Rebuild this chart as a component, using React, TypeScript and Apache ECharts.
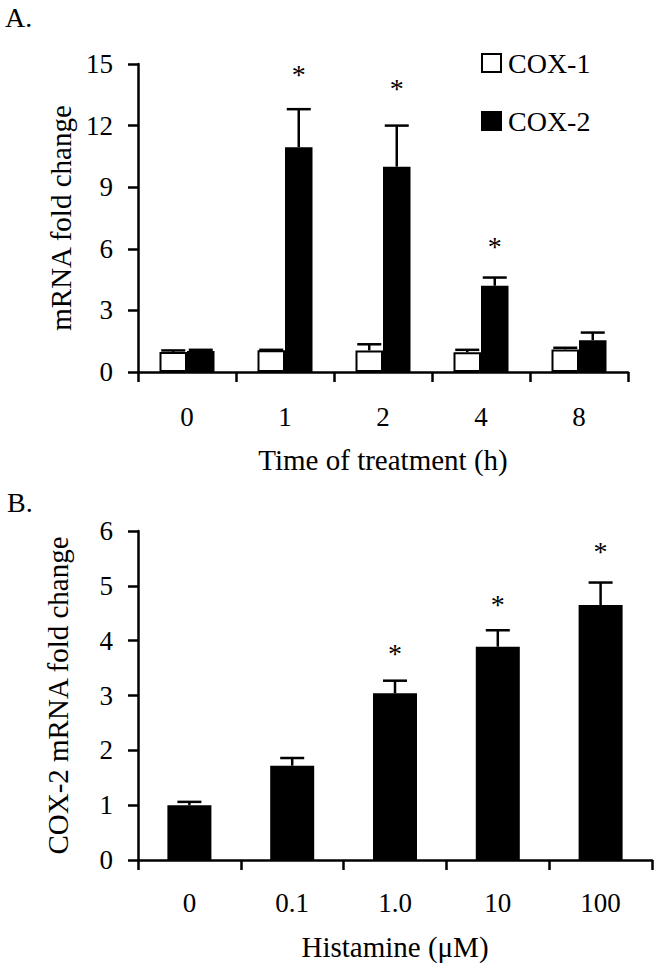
import React, { useEffect, useRef } from "react";
import * as echarts from "echarts";

// Panel A data
const timeCats = ["0", "1", "2", "4", "8"];
const cox1Mean = [0.98, 1.06, 1.05, 0.96, 1.1];
const cox1Upper = [1.05, 1.08, 1.35, 1.08, 1.18];
const cox2Mean = [1.02, 10.95, 10.0, 4.2, 1.55];
const cox2Upper = [1.08, 12.8, 12.0, 4.6, 1.92];
const cox2StarY: (number | null)[] = [null, 14.7, 14.0, 6.3, null];

// Panel B data
const doseCats = ["0", "0.1", "1.0", "10", "100"];
const histMean = [1.0, 1.72, 3.04, 3.89, 4.65];
const histUpper = [1.06, 1.86, 3.27, 4.19, 5.06];
const histStarY: (number | null)[] = [null, null, 3.83, 4.74, 5.69];

const FONT = '"Liberation Serif", "Times New Roman", serif';
const BW_A = 27.5;
const BW_B = 44;

function errRender(offset: number, capW: number) {
  return (params: any, api: any) => {
    const x = api.value(0);
    const p0 = api.coord([x, api.value(1)]);
    const p1 = api.coord([x, api.value(2)]);
    const cx = p0[0] + offset;
    const st = { stroke: "#000", lineWidth: 2.5 };
    return {
      type: "group",
      children: [
        { type: "line", shape: { x1: cx, y1: p0[1], x2: cx, y2: p1[1] }, style: st },
        { type: "line", shape: { x1: cx - capW / 2, y1: p1[1], x2: cx + capW / 2, y2: p1[1] }, style: st },
      ],
    };
  };
}

function starRender(offset: number) {
  return (params: any, api: any) => {
    const p = api.coord([api.value(0), api.value(1)]);
    return {
      type: "text",
      x: p[0] + offset,
      y: p[1] + 4,
      style: {
        text: "*",
        fill: "#000",
        font: `28px ${FONT}`,
        align: "center",
        verticalAlign: "middle",
      },
    };
  };
}

export default function App() {
  const ref = useRef<HTMLDivElement>(null);
  useEffect(() => {
    document.body.style.margin = "0";
    const chart = echarts.init(ref.current!, null, { renderer: "svg" });
    const axisLine = { show: true, lineStyle: { color: "#000", width: 2.5 } };
    const axisTick = { show: true, inside: false, length: 10, lineStyle: { color: "#000", width: 2.5 } };
    const tickFont = { color: "#000", fontFamily: FONT, fontSize: 27 };
    const nameFont = { color: "#000", fontFamily: FONT, fontSize: 29 };

    const errA1 = cox1Mean.map((m, i) => [i, m, cox1Upper[i]]);
    const errA2 = cox2Mean.map((m, i) => [i, m, cox2Upper[i]]);
    const starsA = cox2StarY.map((v, i) => (v == null ? null : [i, v])).filter(Boolean);
    const errB = histMean.map((m, i) => [i, m, histUpper[i]]);
    const starsB = histStarY.map((v, i) => (v == null ? null : [i, v])).filter(Boolean);

    chart.setOption({
      animation: false,
      backgroundColor: "#fff",
      title: [
        { text: "A.", left: 5, top: 3, textStyle: { ...nameFont, fontSize: 28, fontWeight: "normal" }, padding: 0 },
        { text: "B.", left: 7, top: 488, textStyle: { ...nameFont, fontSize: 28, fontWeight: "normal" }, padding: 0 },
      ],
      legend: {
        data: ["COX-1", "COX-2"],
        orient: "vertical",
        left: 476,
        top: 44,
        icon: "rect",
        itemWidth: 19,
        itemHeight: 18,
        itemGap: 30,
        itemStyle: { borderColor: "#000", borderWidth: 2 },
        textStyle: { ...nameFont, fontSize: 28, padding: [0, 0, 0, 2] },
      },
      grid: [
        { left: 138, right: 29, top: 64, height: 308 },
        { left: 138, right: 5, top: 531, height: 329 },
      ],
      xAxis: [
        {
          type: "category",
          gridIndex: 0,
          data: timeCats,
          axisLine,
          axisTick,
          axisLabel: { ...tickFont, margin: 31 },
          name: "Time of treatment (h)",
          nameLocation: "middle",
          nameGap: 73.5,
          nameTextStyle: nameFont,
        },
        {
          type: "category",
          gridIndex: 1,
          data: doseCats,
          axisLine,
          axisTick,
          axisLabel: { ...tickFont, margin: 29 },
          name: "Histamine (μM)",
          nameLocation: "middle",
          nameGap: 72.5,
          nameTextStyle: nameFont,
        },
      ],
      yAxis: [
        {
          type: "value",
          gridIndex: 0,
          min: 0,
          max: 15,
          interval: 3,
          axisLine,
          axisTick,
          splitLine: { show: false },
          axisLabel: { ...tickFont, margin: 25 },
          name: "mRNA fold change",
          nameLocation: "middle",
          nameGap: 62.5,
          nameTextStyle: nameFont,
        },
        {
          type: "value",
          gridIndex: 1,
          min: 0,
          max: 6,
          interval: 1,
          axisLine,
          axisTick,
          splitLine: { show: false },
          axisLabel: { ...tickFont, margin: 25 },
          name: "COX-2 mRNA fold change",
          nameLocation: "middle",
          nameGap: 65.5,
          nameTextStyle: nameFont,
        },
      ],
      series: [
        {
          name: "COX-1",
          type: "bar",
          xAxisIndex: 0,
          yAxisIndex: 0,
          data: cox1Mean,
          barWidth: BW_A,
          barGap: "0%",
          itemStyle: { color: "#fff", borderColor: "#000", borderWidth: 2 },
        },
        {
          name: "COX-2",
          type: "bar",
          xAxisIndex: 0,
          yAxisIndex: 0,
          data: cox2Mean,
          barWidth: BW_A,
          barGap: "0%",
          itemStyle: { color: "#000", borderColor: "#000", borderWidth: 2 },
        },
        {
          name: "COX-1 err",
          type: "custom",
          xAxisIndex: 0,
          yAxisIndex: 0,
          data: errA1,
          encode: { x: 0, y: [1, 2] },
          renderItem: errRender(-BW_A / 2, 24),
          z: 3,
        },
        {
          name: "COX-2 err",
          type: "custom",
          xAxisIndex: 0,
          yAxisIndex: 0,
          data: errA2,
          encode: { x: 0, y: [1, 2] },
          renderItem: errRender(BW_A / 2, 24),
          z: 3,
        },
        {
          name: "COX-2 sig",
          type: "custom",
          xAxisIndex: 0,
          yAxisIndex: 0,
          data: starsA,
          encode: { x: 0, y: 1 },
          renderItem: starRender(BW_A / 2),
          z: 3,
        },
        {
          name: "Histamine",
          type: "bar",
          xAxisIndex: 1,
          yAxisIndex: 1,
          data: histMean,
          barWidth: BW_B,
          itemStyle: { color: "#000", borderColor: "#000", borderWidth: 2 },
        },
        {
          name: "Histamine err",
          type: "custom",
          xAxisIndex: 1,
          yAxisIndex: 1,
          data: errB,
          encode: { x: 0, y: [1, 2] },
          renderItem: errRender(0, 24),
          z: 3,
        },
        {
          name: "Histamine sig",
          type: "custom",
          xAxisIndex: 1,
          yAxisIndex: 1,
          data: starsB,
          encode: { x: 0, y: 1 },
          renderItem: starRender(0),
          z: 3,
        },
      ],
    });
    return () => chart.dispose();
  }, []);
  return <div ref={ref} style={{ width: 657, height: 972 }} />;
}
